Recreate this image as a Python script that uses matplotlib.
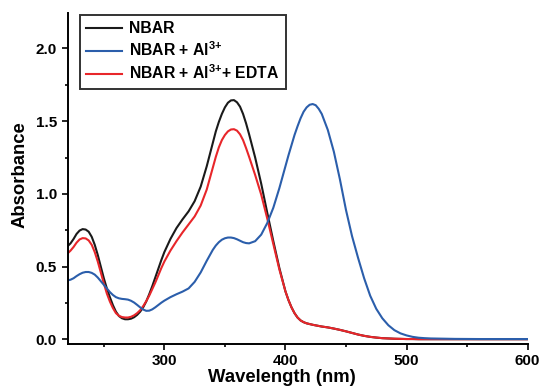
import matplotlib
matplotlib.use("Agg")
import matplotlib.pyplot as plt
from matplotlib.ticker import MultipleLocator, FormatStrFormatter

plt.rcParams['font.family'] = ['Liberation Sans', 'DejaVu Sans']
plt.rcParams['font.weight'] = 'bold'
plt.rcParams['mathtext.fontset'] = 'custom'
plt.rcParams['mathtext.rm'] = 'Liberation Sans:bold'
plt.rcParams['mathtext.it'] = 'Liberation Sans:bold'
plt.rcParams['mathtext.bf'] = 'Liberation Sans:bold'

# wavelength grid (nm), finer around the peaks
wavelength = [220, 222.5, 225, 227.5, 230, 232.5, 235, 237.5, 240, 242.5,
              245, 247.5, 250, 252.5, 255, 257.5, 260, 262.5, 265, 267.5,
              270, 272.5, 275, 277.5, 280, 282.5, 285, 287.5, 290, 292.5,
              295, 297.5, 300,
              305, 310, 315, 320, 325, 330, 335, 340,
              342.5, 345, 347.5, 350, 352.5, 355, 357.5, 360, 362.5, 365,
              367.5, 370,
              375, 380, 385, 390, 395, 400,
              402.5, 405, 407.5, 410, 412.5, 415, 417.5, 420, 422.5, 425,
              427.5, 430,
              435, 440, 445, 450, 455, 460, 465, 470, 475, 480,
              485, 490, 495, 500, 505, 510, 515, 520,
              540, 560, 580, 600]

nbar = [0.64, 0.66, 0.69, 0.725, 0.748, 0.758, 0.755, 0.74, 0.705, 0.65,
        0.58, 0.50, 0.42, 0.35, 0.29, 0.235, 0.19, 0.16, 0.145, 0.138,
        0.138, 0.142, 0.152, 0.168, 0.19, 0.22, 0.26, 0.31, 0.365, 0.425,
        0.485, 0.545, 0.60,
        0.69, 0.765, 0.825, 0.88, 0.95, 1.05, 1.19, 1.35,
        1.43, 1.495, 1.55, 1.595, 1.627, 1.643, 1.645, 1.63, 1.60, 1.55,
        1.485, 1.41,
        1.25, 1.07, 0.87, 0.675, 0.49, 0.33,
        0.27, 0.22, 0.18, 0.15, 0.13, 0.118, 0.11, 0.105, 0.10, 0.096,
        0.092, 0.088,
        0.082, 0.074, 0.065, 0.055, 0.044, 0.033, 0.024, 0.017, 0.012, 0.008,
        0.006, 0.004, 0.003, 0.002, 0.002, 0.001, 0.001, 0.001,
        0.001, 0.001, 0.001, 0.001]

nbar_al = [0.405, 0.41, 0.42, 0.435, 0.448, 0.458, 0.463, 0.463, 0.457, 0.445,
           0.425, 0.40, 0.375, 0.35, 0.325, 0.305, 0.29, 0.282, 0.278, 0.276,
           0.273, 0.265, 0.253, 0.237, 0.22, 0.205, 0.196, 0.197, 0.206, 0.22,
           0.236, 0.252, 0.266,
           0.29, 0.31, 0.328, 0.35, 0.395, 0.46, 0.54, 0.615,
           0.645, 0.668, 0.685, 0.695, 0.70, 0.70, 0.696, 0.688, 0.678, 0.668,
           0.662, 0.66,
           0.675, 0.72, 0.80, 0.905, 1.04, 1.19,
           1.265, 1.335, 1.405, 1.465, 1.52, 1.565, 1.595, 1.613, 1.618, 1.61,
           1.585, 1.55,
           1.44, 1.29, 1.10, 0.89, 0.71, 0.56, 0.42, 0.30, 0.21, 0.145,
           0.097, 0.063, 0.041, 0.027, 0.017, 0.011, 0.008, 0.006,
           0.003, 0.002, 0.002, 0.002]

nbar_al_edta = [0.59, 0.61, 0.635, 0.665, 0.687, 0.696, 0.694, 0.68, 0.65, 0.60,
                0.535, 0.46, 0.385, 0.315, 0.26, 0.215, 0.18, 0.162, 0.153, 0.15,
                0.15, 0.155, 0.165, 0.18, 0.20, 0.228, 0.262, 0.30, 0.345, 0.39,
                0.44, 0.49, 0.535,
                0.61, 0.675, 0.735, 0.79, 0.845, 0.92, 1.03, 1.18,
                1.255, 1.32, 1.37, 1.405, 1.43, 1.443, 1.445, 1.435, 1.41, 1.37,
                1.315, 1.255,
                1.13, 0.995, 0.83, 0.655, 0.48, 0.33,
                0.27, 0.22, 0.18, 0.15, 0.13, 0.118, 0.11, 0.105, 0.10, 0.096,
                0.092, 0.088,
                0.082, 0.074, 0.065, 0.055, 0.044, 0.033, 0.024, 0.017, 0.012, 0.008,
                0.006, 0.004, 0.003, 0.002, 0.002, 0.001, 0.001, 0.001,
                0.001, 0.001, 0.001, 0.001]

fig = plt.figure(figsize=(5.4, 3.9), dpi=100)
ax = fig.add_axes([0.125, 0.118, 0.852, 0.849])

ax.plot(wavelength, nbar, color='#1a1a1a', lw=1.5, label='NBAR')
ax.plot(wavelength, nbar_al_edta, color='#e8262a', lw=1.5,
        label=r'NBAR + $\mathrm{Al}^{3{+}}$+ EDTA')
ax.plot(wavelength, nbar_al, color='#2b5eab', lw=1.5,
        label=r'NBAR + $\mathrm{Al}^{3{+}}$')

ax.set_xlim(220, 600)
ax.set_ylim(-0.032, 2.245)
ax.xaxis.set_major_locator(MultipleLocator(100))
ax.xaxis.set_minor_locator(MultipleLocator(50))
ax.yaxis.set_major_locator(MultipleLocator(0.5))
ax.yaxis.set_minor_locator(MultipleLocator(0.25))
ax.yaxis.set_major_formatter(FormatStrFormatter('%.1f'))

for side in ['top', 'right']:
    ax.spines[side].set_visible(False)
for side in ['left', 'bottom']:
    ax.spines[side].set_linewidth(1.4)
ax.tick_params(which='major', direction='out', length=4, width=1.2, labelsize=11)
ax.tick_params(which='minor', direction='out', length=2.5, width=1.2)

ax.set_xlabel('Wavelength (nm)', fontsize=13.3, fontweight='bold')
ax.set_ylabel('Absorbance', fontsize=13.3, fontweight='bold')
ax.xaxis.set_label_coords(0.467, -0.075)
ax.yaxis.set_label_coords(-0.085, 0.51)

handles, labels = ax.get_legend_handles_labels()
order = [0, 2, 1]
leg = ax.legend([handles[i] for i in order], [labels[i] for i in order],
                loc='upper left', bbox_to_anchor=(0.027, 0.994), borderaxespad=0,
                frameon=True, fancybox=False, handlelength=2.3,
                handletextpad=0.45, labelspacing=0.28, borderpad=0.4,
                prop={'weight': 'bold', 'size': 11.3})
leg.get_frame().set_edgecolor('black')
leg.get_frame().set_linewidth(1.4)

fig.savefig('out.png', dpi=100)
